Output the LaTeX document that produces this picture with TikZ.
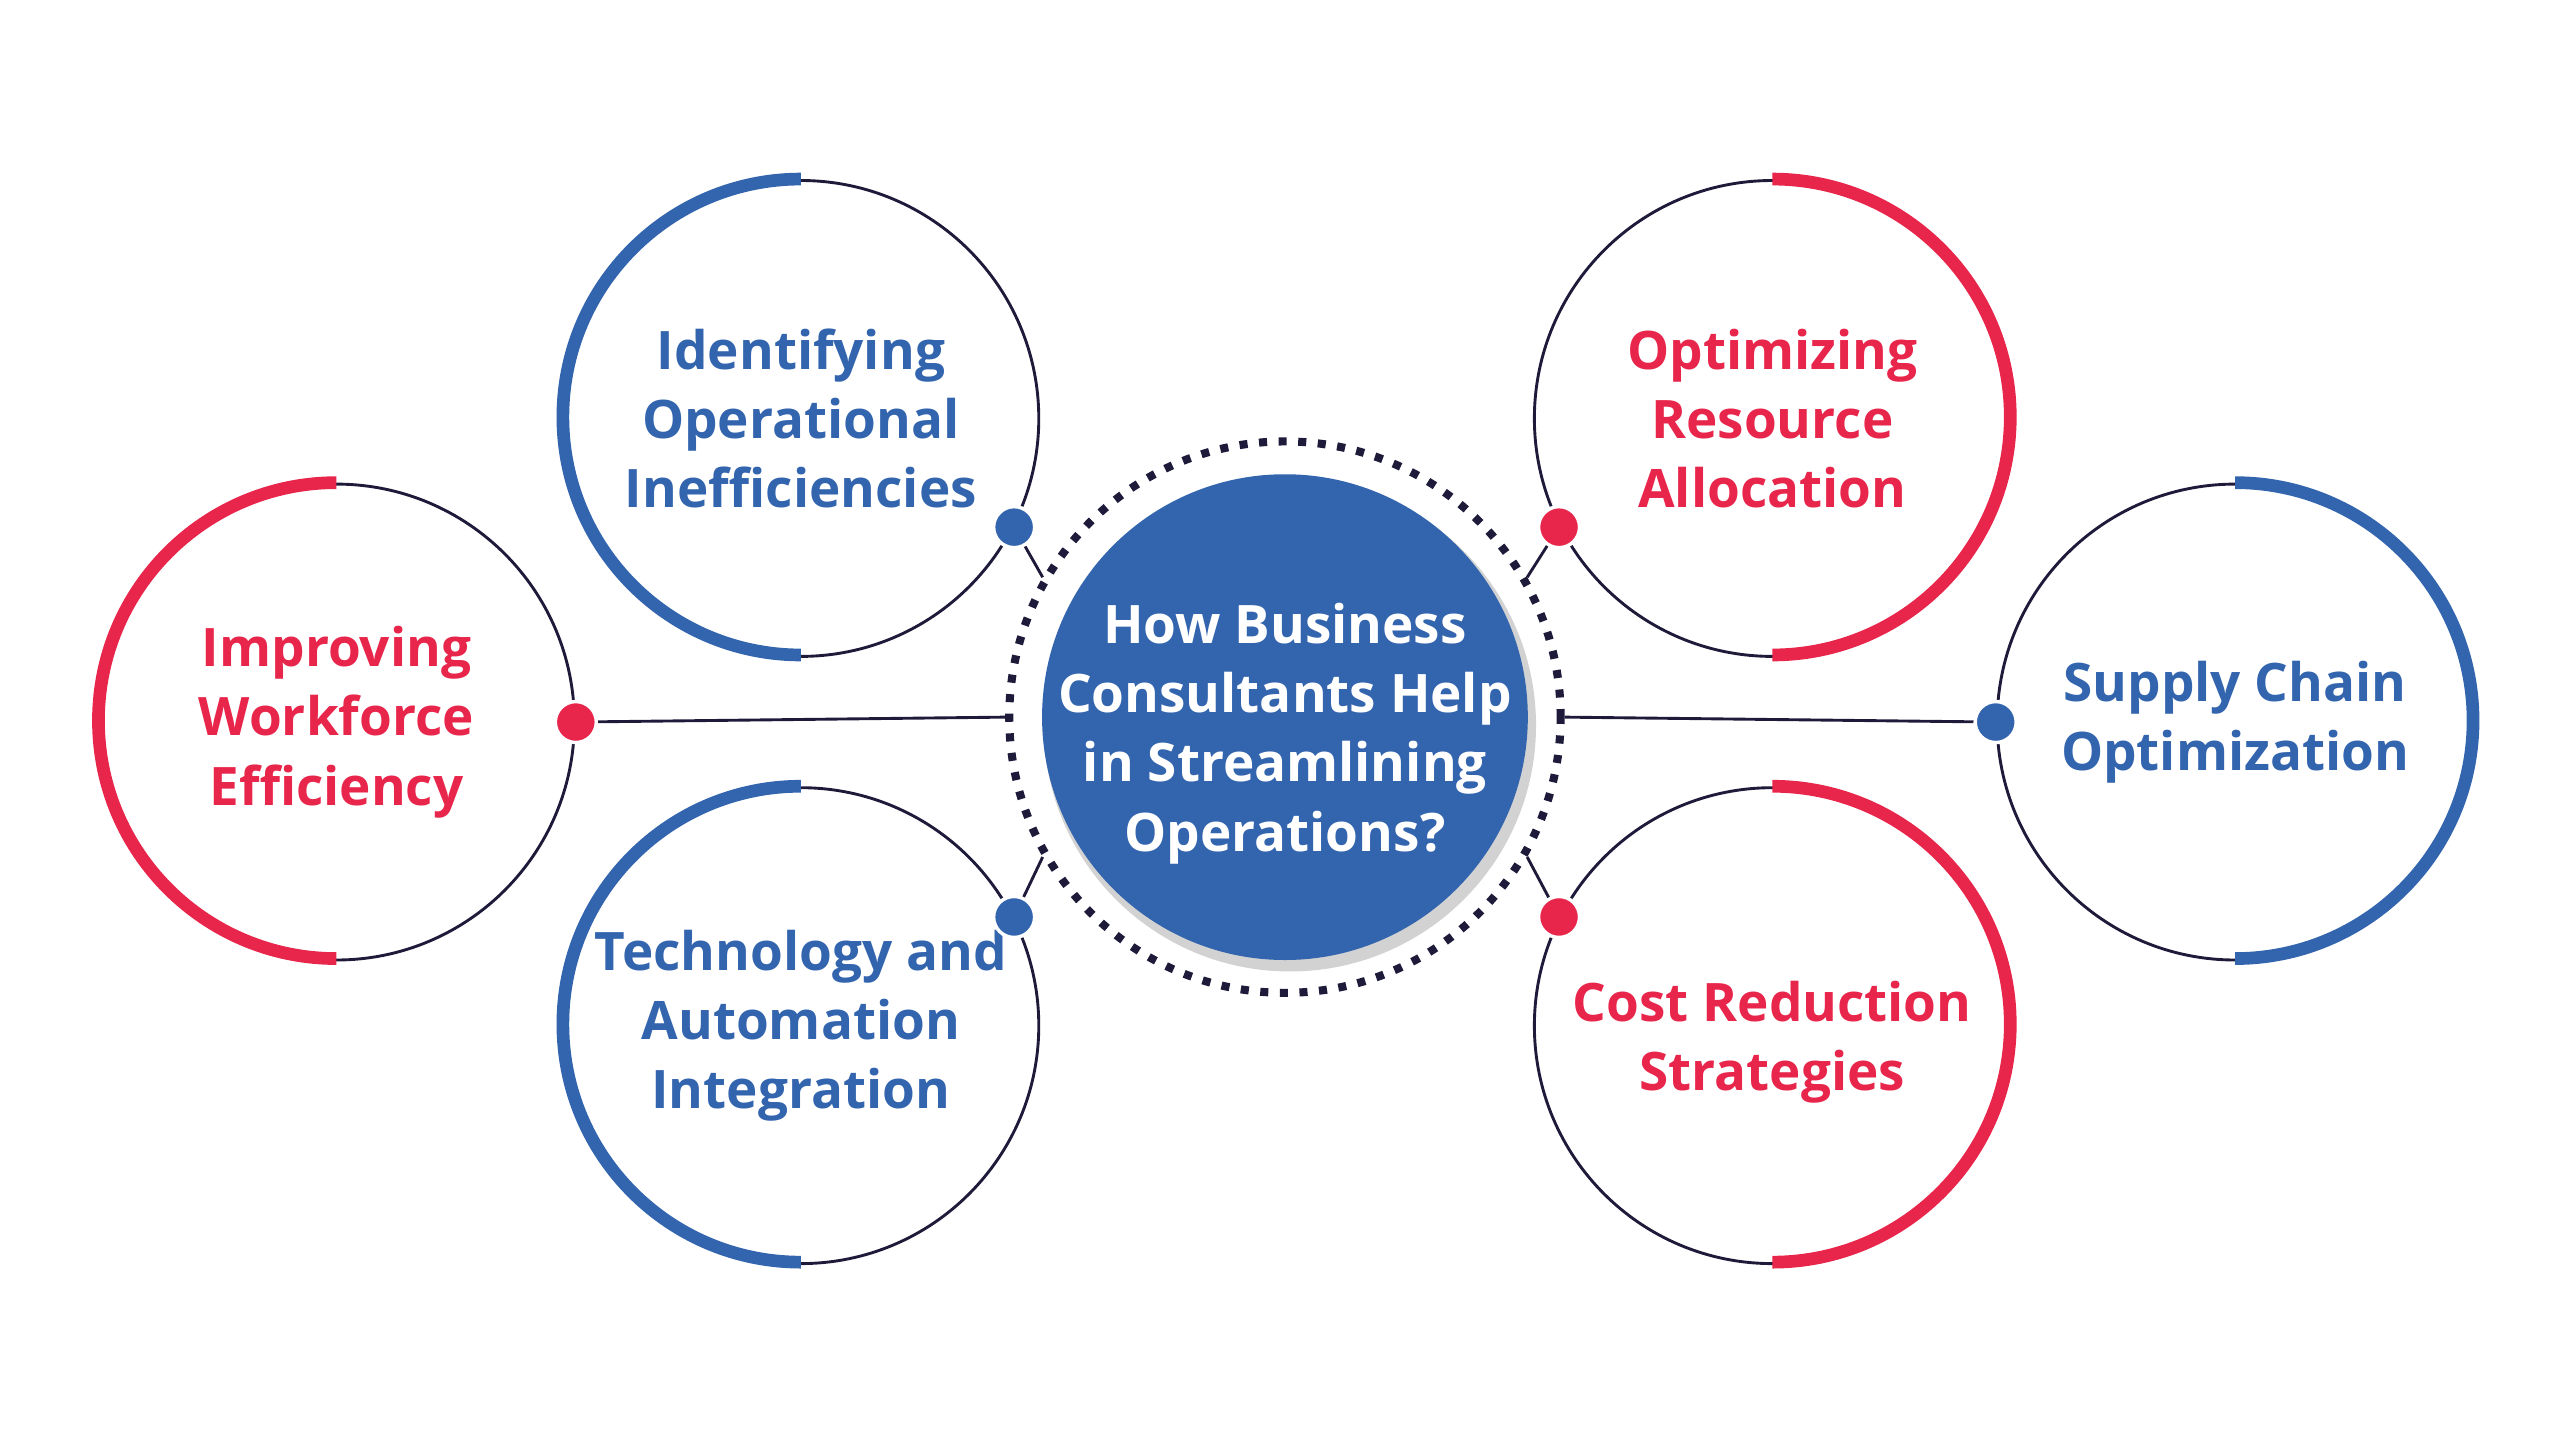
\documentclass[tikz,border=0pt]{standalone}
\usepackage{fontspec}
\setmainfont{Open Sans}
\definecolor{cblue}{HTML}{3364AE}
\definecolor{cred}{HTML}{E8254A}
\definecolor{cdark}{HTML}{1E1B3A}
\tikzset{
  sat/.style={circle, draw=cdark, line width=0.5pt, minimum size=2.9cm, inner sep=0pt},
  lbl/.style={align=center, font=\fontsize{9.2}{12}\selectfont\bfseries},
  dotb/.style={circle, fill=cblue, draw=white, line width=0.6pt, minimum size=0.25cm, inner sep=0pt},
  dotr/.style={circle, fill=cred, draw=white, line width=0.6pt, minimum size=0.25cm, inner sep=0pt},
  link/.style={draw=cdark, line width=0.5pt},
  rim/.style={line width=2.2pt}
}
\begin{document}
\begin{tikzpicture}
    \useasboundingbox (0,0) rectangle (15.6,-8.78);
    % hub
    \fill [gray!35] (7.86,-4.42) circle (1.5);
    \node [circle, fill=cblue, minimum size=2.96cm, inner sep=0pt] (hub) at (7.83,-4.37) {};
    \node [lbl, text=white] (hub-t) at ([yshift=-0.1cm]hub) {How Business\\Consultants Help\\in Streamlining\\Operations?};
    \node [circle, draw=cdark, dotted, line width=1.4pt, minimum size=3.36cm, inner sep=0pt] (ring) at (7.83,-4.37) {};
    % satellites
    \node [sat] (ident) at (4.88,-2.55) {};
    \node [sat] (workf) at (2.05,-4.40) {};
    \node [sat] (techn) at (4.88,-6.25) {};
    \node [sat] (resou) at (10.80,-2.55) {};
    \node [sat] (suppl) at (13.62,-4.40) {};
    \node [sat] (costr) at (10.80,-6.25) {};
    \node [lbl, text=cblue] (ident-t) at (ident) {Identifying\\Operational\\Inefficiencies};
    \node [lbl, text=cred] (workf-t) at (workf) {Improving\\Workforce\\Efficiency};
    \node [lbl, text=cblue] (techn-t) at (techn) {Technology and\\Automation\\Integration};
    \node [lbl, text=cred] (resou-t) at (resou) {Optimizing\\Resource\\Allocation};
    \node [lbl, text=cblue] (suppl-t) at (suppl) {Supply Chain\\Optimization};
    \node [lbl, text=cred] (costr-t) at ([yshift=-0.1cm]costr) {Cost Reduction\\Strategies};
    % coloured rims
    \draw [rim, cblue] (ident.north) arc (90:270:1.45);
    \draw [rim, cred] (workf.north) arc (90:270:1.45);
    \draw [rim, cblue] (techn.north) arc (90:270:1.45);
    \draw [rim, cred] (resou.north) arc (90:-90:1.45);
    \draw [rim, cblue] (suppl.north) arc (90:-90:1.45);
    \draw [rim, cred] (costr.north) arc (90:-90:1.45);
    % connectors
    \node [dotb] (d1) at (ident.-27) {};
    \node [dotr] (d2) at (workf.east) {};
    \node [dotb] (d3) at (techn.27) {};
    \node [dotr] (d4) at (resou.-153) {};
    \node [dotb] (d5) at (suppl.west) {};
    \node [dotr] (d6) at (costr.153) {};
    \draw [link] (d1) -- (ring.150);
    \draw [link] (d2) -- (ring.west);
    \draw [link] (d3) -- (ring.-150);
    \draw [link] (d4) -- (ring.30);
    \draw [link] (d5) -- (ring.east);
    \draw [link] (d6) -- (ring.-30);
\end{tikzpicture}
\end{document}
